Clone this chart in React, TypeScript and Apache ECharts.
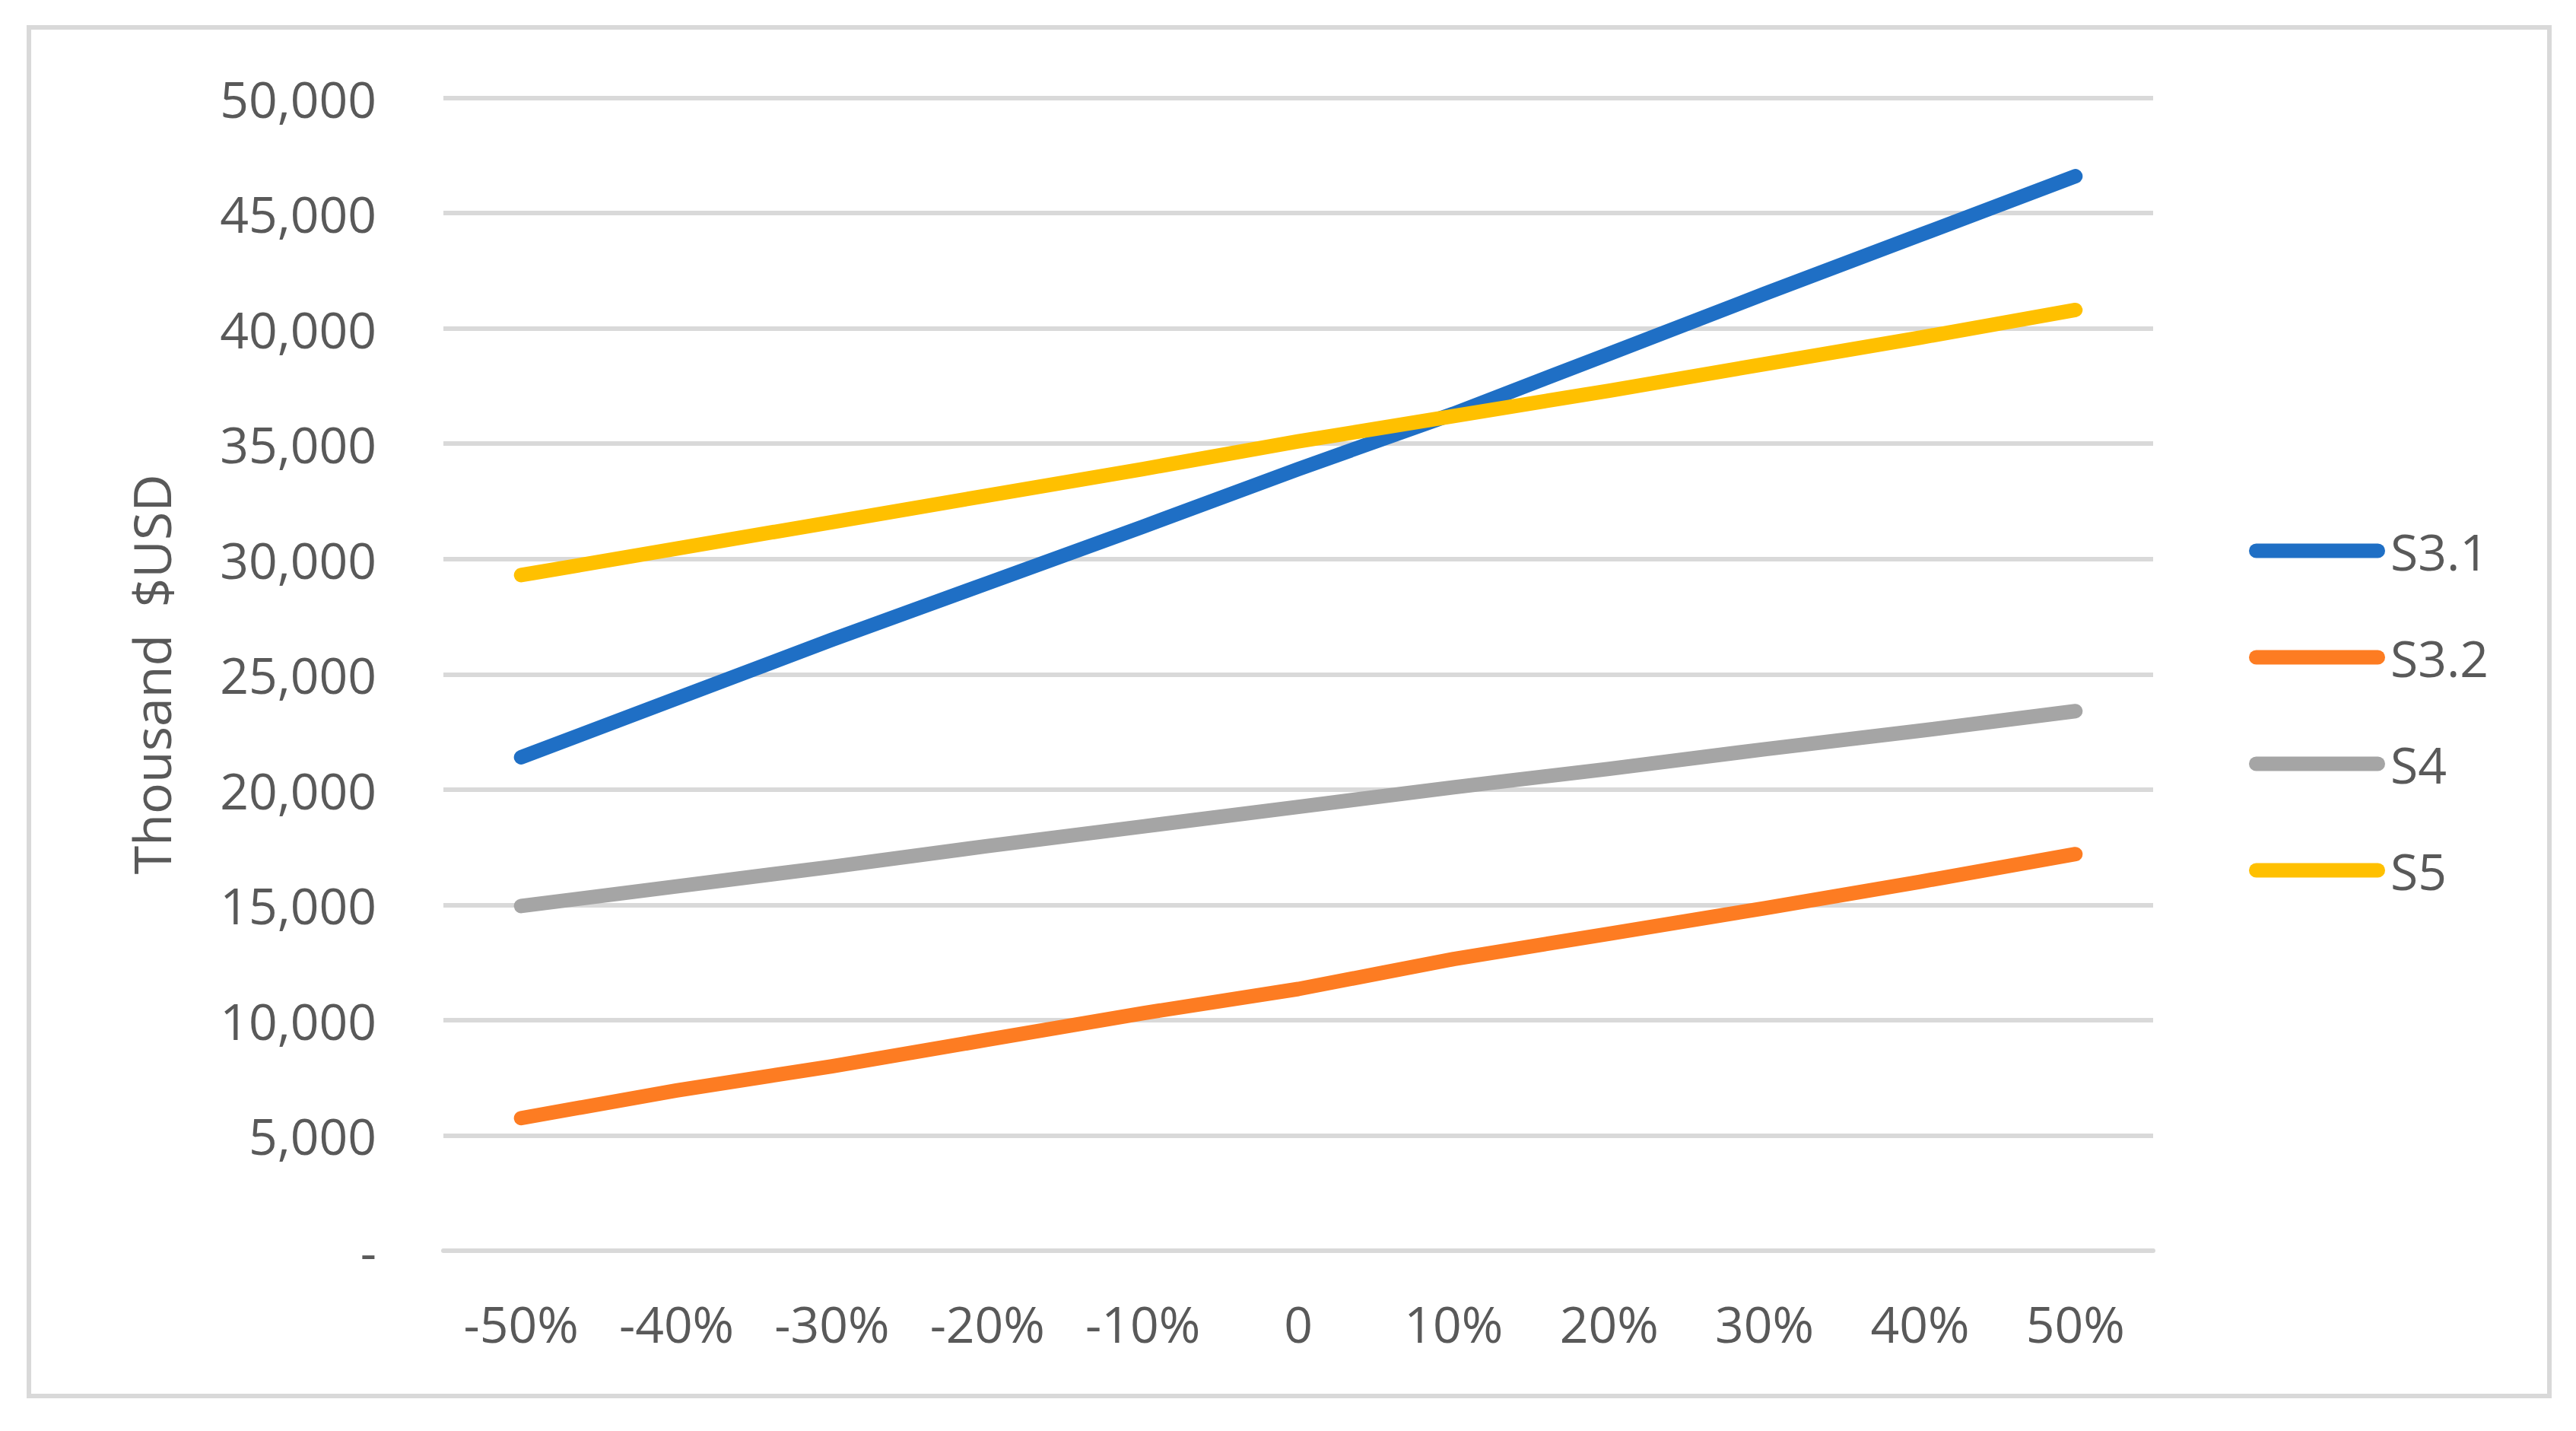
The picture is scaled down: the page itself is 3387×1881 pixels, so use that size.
import React, { useEffect, useRef } from "react";
import * as echarts from "echarts";

const categories = ["-50%", "-40%", "-30%", "-20%", "-10%", "0", "10%", "20%", "30%", "40%", "50%"];
const seriesNames = ["S3.1", "S3.2", "S4", "S5"];
const s31 = [21400, 23950, 26500, 28950, 31400, 33900, 36300, 38900, 41500, 44050, 46600];
const s32 = [5750, 6950, 8000, 9150, 10300, 11350, 12650, 13750, 14850, 16000, 17200];
const s4 = [14950, 15800, 16650, 17550, 18400, 19250, 20100, 20900, 21750, 22550, 23400];
const s5 = [29300, 30450, 31600, 32750, 33900, 35100, 36200, 37300, 38450, 39600, 40800];
const colors = ["#1f6fc5", "#fd7c22", "#a5a5a5", "#ffc000"];
const yTicks = { min: 0, max: 50000, interval: 5000 };
const yTitle = "Thousand  $USD";

const FONT = "'Open Sans', 'Noto Sans', sans-serif";
const TEXT = "#595959";
const GRID = "#d9d9d9";

export default function App() {
  const ref = useRef<HTMLDivElement>(null);
  useEffect(() => {
    document.body.style.margin = "0";
    const chart = echarts.init(ref.current!, null, { renderer: "svg" });
    const data = [s31, s32, s4, s5];
    chart.setOption({
      animation: false,
      backgroundColor: "#ffffff",
      textStyle: { fontFamily: FONT },
      graphic: [
        {
          type: "rect",
          shape: { x: 38, y: 36, width: 3314, height: 1799 },
          style: { fill: "none", stroke: GRID, lineWidth: 6 },
          silent: true,
        },
      ],
      grid: { left: 583, right: 556, top: 128.6, bottom: 237, containLabel: false },
      legend: {
        orient: "vertical",
        left: 2952,
        top: 686,
        itemWidth: 179,
        itemHeight: 19,
        itemGap: 74,
        icon: "path://M9.5,0 H169.5 A9.5,9.5 0 0 1 169.5,19 H9.5 A9.5,9.5 0 0 1 9.5,0 Z",
        textStyle: { fontSize: 66, color: TEXT, fontFamily: FONT, lineHeight: 66, padding: [0, 0, 0, 2] },
        data: seriesNames,
      },
      xAxis: {
        type: "category",
        data: categories,
        boundaryGap: true,
        axisLine: { show: true, lineStyle: { color: GRID, width: 6 } },
        axisTick: { show: false },
        axisLabel: { color: TEXT, fontSize: 66, fontFamily: FONT, margin: 62, interval: 0 },
        splitLine: { show: false },
      },
      yAxis: {
        type: "value",
        min: yTicks.min,
        max: yTicks.max,
        interval: yTicks.interval,
        name: yTitle,
        nameLocation: "middle",
        nameRotate: 90,
        nameGap: 351,
        nameTextStyle: { color: TEXT, fontSize: 68, fontFamily: FONT },
        axisLine: { show: false },
        axisTick: { show: false },
        axisLabel: {
          color: TEXT,
          fontSize: 66,
          fontFamily: FONT,
          margin: 88,
          padding: [0, 0, 8, 0],
          formatter: (v: number) => (v === 0 ? "-" : v.toLocaleString("en-US")),
        },
        splitLine: { show: true, lineStyle: { color: GRID, width: 6 } },
      },
      series: seriesNames.map((name, i) => ({
        name,
        type: "line",
        data: data[i],
        symbol: "none",
        color: colors[i],
        lineStyle: { width: 19, color: colors[i], cap: "round", join: "round" },
      })),
    });
    return () => chart.dispose();
  }, []);
  return <div ref={ref} style={{ position: "absolute", left: 0, top: 0, width: 3387, height: 1881 }} />;
}
